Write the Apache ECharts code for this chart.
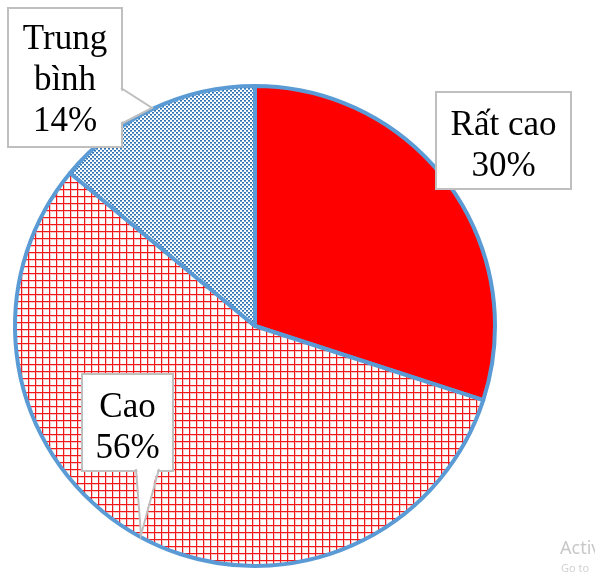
<!DOCTYPE html>
<html>
<head>
<meta charset="utf-8">
<script src="https://cdn.jsdelivr.net/npm/echarts@6/dist/echarts.min.js"></script>
<style>
html,body{margin:0;padding:0;background:#fff;}
#chart{width:595px;height:574px;}
</style>
</head>
<body>
<div id="chart"></div>
<script>
// Data
var categories = ['Rất cao', 'Cao', 'Trung bình'];
var values = [30, 56, 14];
var labelLines = [['Rất cao', '30%'], ['Cao', '56%'], ['Trung', 'bình', '14%']];

function makeGrid() {
  var c = document.createElement('canvas');
  c.width = 7; c.height = 7;
  var g = c.getContext('2d');
  g.fillStyle = '#ffffff'; g.fillRect(0, 0, 7, 7);
  g.fillStyle = '#f8c4c4';
  g.fillRect(0, 1, 7, 1);
  g.fillRect(1, 0, 1, 7);
  g.fillStyle = '#f21818';
  g.fillRect(0, 0, 7, 1);
  g.fillRect(0, 0, 1, 7);
  return c;
}
function makeDots() {
  var c = document.createElement('canvas');
  c.width = 4; c.height = 4;
  var g = c.getContext('2d');
  g.fillStyle = '#ffffff'; g.fillRect(0, 0, 4, 4);
  g.fillStyle = '#2f70ad';
  g.fillRect(0, 0, 2, 1);
  g.fillRect(2, 2, 2, 1);
  g.fillStyle = '#74a6d4';
  g.fillRect(0, 1, 2, 1);
  g.fillRect(2, 3, 2, 1);
  return c;
}

var fills = [
  '#ff0000',
  { image: makeGrid(), repeat: 'repeat' },
  { image: makeDots(), repeat: 'repeat' }
];

// box: left, top, inner text width, padding
var boxes = [
  { x: 437, y: 93, w: 113, pad: [12, 10, 1, 10] },
  { x: 83, y: 375, w: 69, pad: [12, 10, 1, 10] },
  { x: 9, y: 9, w: 92, pad: [10, 10, 4, 10] }
];

var data = categories.map(function (name, i) {
  return {
    name: name,
    value: values[i],
    itemStyle: { color: fills[i] },
    label: {
      formatter: labelLines[i].join('\n'),
      width: boxes[i].w,
      padding: boxes[i].pad
    }
  };
});

var chart = echarts.init(document.getElementById('chart'), null, { renderer: 'canvas' });
chart.setOption({
  backgroundColor: '#ffffff',
  animation: false,
  series: [{
    type: 'pie',
    center: [255, 326],
    radius: 240,
    startAngle: 90,
    clockwise: true,
    data: data,
    itemStyle: { borderColor: '#5b9bd5', borderWidth: 4 },
    label: {
      show: true,
      position: 'outside',
      fontFamily: 'Liberation Serif, Times New Roman, serif',
      fontSize: 35,
      lineHeight: 41,
      color: '#000000',
      align: 'center',
      backgroundColor: '#ffffff',
      borderColor: '#bfbfbf',
      borderWidth: 2
    },
    labelLine: { show: false },
    labelLayout: function (p) {
      var b = boxes[p.dataIndex];
      return { x: b.x + (b.w + 20) / 2, y: b.y, align: 'center', verticalAlign: 'top', hideOverlap: false };
    },
    emphasis: { disabled: true }
  }],
  graphic: [
    { type: 'polygon', z: 100, shape: { points: [[119, 89], [152, 108], [119, 123]] }, style: { fill: '#ffffff' } },
    { type: 'polyline', z: 101, shape: { points: [[121, 88], [152, 108], [121, 124]] }, style: { stroke: '#bfbfbf', lineWidth: 2, fill: null } },
    { type: 'polygon', z: 100, shape: { points: [[137, 467], [141, 534], [158, 467]] }, style: { fill: '#ffffff' } },
    { type: 'polyline', z: 101, shape: { points: [[136, 469], [141, 535], [159, 469]] }, style: { stroke: '#bfbfbf', lineWidth: 2, fill: null } },
    { type: 'text', z: 100, left: 560, top: 540, style: { text: 'Activ', fontSize: 18, fill: '#c8c8c8', fontFamily: 'Noto Sans, sans-serif' } },
    { type: 'text', z: 100, left: 561, top: 563, style: { text: 'Go to', fontSize: 11, fill: '#d2d2d2', fontFamily: 'Noto Sans, sans-serif' } }
  ]
});
</script>
</body>
</html>
